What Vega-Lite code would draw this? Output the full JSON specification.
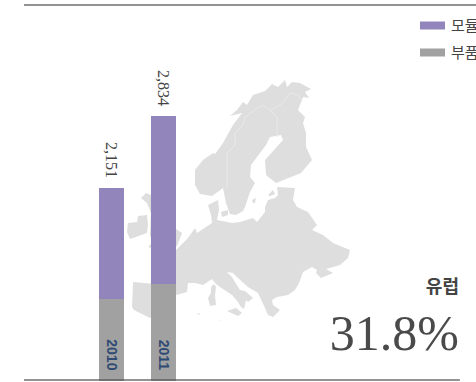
{"$schema":"https://vega.github.io/schema/vega-lite/v6.json","width":476,"height":381,"padding":0,"autosize":{"type":"none"},"background":"white","config":{"view":{"stroke":null}},
"layer":[
{"data":{"values":[
{"type":"Feature","properties":{"name":"Scandinavia"},"geometry":{"type":"Polygon","coordinates":[[[2.5,23],[3.3,24],[4.3,24.7],[4.5,24.6],[5.3,25.7],[6.3,27.5],[7.2,28.7],[6,28.4],[6.7,29],[7.3,29.8],[7.7,29.5],[8.3,30.5],[9.5,30.9],[10.2,31.6],[10.8,31.3],[11.5,32],[11.7,31.3],[12.2,31.8],[13,31.7],[14.1,31.1],[13.5,30.8],[13.9,30.2],[13.3,30.3],[12.8,29],[13.5,28.3],[13.3,27.7],[13.6,26.7],[13.6,25.3],[14.2,24],[13.1,22.7],[10.6,21.7],[9.6,22.5],[9.5,24],[11.3,26],[11.1,26.5],[10,26.3],[9.6,25.5],[8.1,23.5],[8,22.3],[8.5,21.7],[8,20.8],[7.5,19.3],[7.3,18.9],[6.6,18.5],[6,18.6],[5.6,19.7],[5.3,21.2],[4.9,20.9],[4.2,20.4],[3,20.6],[2.5,21.5],[2.5,23]]]}},
{"type":"Feature","properties":{"name":"Mainland"},"geometry":{"type":"Polygon","coordinates":[[[10.7,21.3],[12.5,21.2],[12.3,20],[12.7,19.3],[13.8,18.8],[14.7,17.5],[14.2,17],[15.3,16.5],[16.3,15.7],[18,15],[17.8,14.2],[17,13.5],[15.6,13.1],[16.3,12.7],[15.1,12.2],[14.6,12.7],[14.7,13],[14.2,13.3],[13.3,12.8],[12.9,11.7],[12.5,11],[11.8,10.5],[10.7,10.3],[10.2,10],[10.3,9.5],[11,9],[10.3,8.3],[9.8,8.5],[9.5,9.2],[8.8,10.7],[7.8,11.3],[6.8,12.2],[6.3,12.7],[5.7,12.8],[6.2,12.3],[6.5,11.8],[7,11],[7.5,10.9],[8.3,10.2],[7.8,9.8],[7.6,10],[7.4,9.1],[7.1,9.3],[6.8,9.8],[6.2,10.5],[5,11.3],[4.5,11.7],[4.2,12.1],[3.3,11.5],[2.5,11.7],[1.8,11.7],[1.7,10.8],[0.6,10.5],[-0.5,9.2],[-2,8.2],[-3.6,9],[-3.8,9.3],[-3.7,11.8],[-1.5,11.6],[-1,13],[-1.5,14],[0.6,15],[1.8,16.2],[2.5,17.2],[2.7,16.7],[4.2,17.7],[4.1,18.5],[3.8,19.5],[4.8,20],[4.9,19],[4.7,18],[6.2,17.7],[7,17.8],[8.3,18.2],[8.7,17.8],[9.5,18.8],[9.5,19.3],[9.8,20],[10.5,20.2],[10.8,20.5],[10.7,21.3]]]}},
{"type":"Feature","properties":{"name":"Islands"},"geometry":{"type":"MultiPolygon","coordinates":[
[[[-2.9,20.2],[-2.4,20.7],[-1.9,20.5],[-1,19.5],[-0.3,17.5],[0.6,17.1],[1.2,16.7],[0.7,15.4],[-1,15],[-2.2,15.3],[-1.8,15.7],[-2,16.5],[-1.9,18.7],[-2.3,19.7],[-2.9,20.2]]],
[[[-4.2,17.7],[-3.3,17.8],[-3.2,18.4],[-2.3,18.5],[-2.2,17.5],[-2.3,16.7],[-4,16.1],[-4.3,16.8],[-4.2,17.7]]],
[[[5.1,18.8],[5.8,19],[5.8,18.5],[5.2,18.3],[5.1,18.8]]],
[[[8.2,20],[8.6,20.2],[8.5,19.7],[8.3,19.7],[8.2,20]]],
[[[9.8,20.5],[10.3,21],[10.5,20.6],[10,20.4],[9.8,20.5]]],
[[[4.1,11.3],[4.4,11.6],[4.6,11.3],[4.5,10.5],[4.6,9.5],[4,9.4],[3.8,10.2],[4.1,10.7],[4.1,11.3]]],
[[[5.7,8.9],[6.6,9.2],[7.2,8.7],[6.8,8.4],[5.7,8.9]]],
[[[2.7,8.6],[3,8.7],[2.9,8.5],[2.7,8.6]]],
[[[5,8],[5.1,8],[5.1,7.9],[5,8]]]
]}}
]},"mark":{"type":"geoshape","fill":"#dedede","stroke":null},"projection":{"type":"identity","reflectY":true,"scale":10,"translate":[170,400]}},
{"data":{"values":[{"type":"Feature","properties":{"name":"Borders"},"geometry":{"type":"MultiLineString","coordinates":[[[5.7,21.3],[5.7,24.7],[6.5,25.5],[6.5,26.7],[7.3,27.5],[7.5,28.3],[9.2,29.5],[10,29],[10.5,29.2],[11.3,29.7],[12,30.7],[12.8,30.5],[13.2,29.8]],[[10,29],[10.7,28.3],[10.7,26.3]]]}}]},"mark":{"type":"geoshape","filled":false,"fill":null,"stroke":"#e9e9e9","strokeWidth":1},"projection":{"type":"identity","reflectY":true,"scale":10,"translate":[170,400]}},
{"data":{"values":[
{"year":2010,"series":"부품","value":1098,"rank":1},
{"year":2010,"series":"모듈","value":1053,"rank":2},
{"year":2011,"series":"부품","value":1241,"rank":1},
{"year":2011,"series":"모듈","value":1593,"rank":2}
]},"mark":{"type":"bar","width":25,"clip":true},"encoding":{
"x":{"field":"year","type":"quantitative","axis":null,"scale":{"domain":[2007.856,2017.01],"nice":false,"zero":false,"padding":0}},
"y":{"field":"value","type":"quantitative","stack":"zero","axis":null,"scale":{"domain":[320,3934.4],"nice":false,"zero":false}},
"order":{"field":"rank","type":"quantitative"},
"color":{"field":"series","type":"nominal","scale":{"domain":["모듈","부품"],"range":["#9185bc","#a1a1a1"]},"legend":{"orient":"none","legendX":420,"legendY":13,"title":null,"symbolType":"M-1,-0.32H1V0.32H-1Z","symbolSize":625,"symbolStrokeWidth":0,"labelFont":"Noto Sans CJK KR","labelFontSize":15,"labelColor":"#444444","labelOffset":6,"rowPadding":6,"padding":0}}
}},
{"data":{"values":[{"year":2010,"total":2151},{"year":2011,"total":2834}]},"mark":{"type":"text","angle":90,"align":"right","baseline":"middle","dx":-10,"font":"Liberation Serif","fontSize":16,"color":"#444444"},"encoding":{
"x":{"field":"year","type":"quantitative"},
"y":{"field":"total","type":"quantitative"},
"text":{"field":"total","type":"quantitative","format":",d"}
}},
{"data":{"values":[{"year":2010,"label":"2010"},{"year":2011,"label":"2011"}]},"mark":{"type":"text","angle":90,"align":"center","baseline":"middle","font":"Liberation Sans","fontWeight":"bold","fontSize":14,"color":"#2f4a73"},"encoding":{
"x":{"field":"year","type":"quantitative"},
"y":{"datum":568},
"text":{"field":"label"}
}},
{"data":{"values":[{"from":2008.317,"to":2017.01,"level":3887},{"from":2008.317,"to":2016.7,"level":329.5}]},"mark":{"type":"rule","color":"#555555","strokeWidth":1.5,"opacity":0.85},"encoding":{
"x":{"field":"from","type":"quantitative"},"x2":{"field":"to"},
"y":{"field":"level","type":"quantitative"}
}},
{"data":{"values":[{"at":2016.683,"level":1203,"label":"유럽"}]},"mark":{"type":"text","align":"right","baseline":"middle","font":"Noto Sans CJK KR","fontWeight":"bold","fontSize":18,"color":"#444444"},"encoding":{
"x":{"field":"at","type":"quantitative"},"y":{"field":"level","type":"quantitative"},"text":{"field":"label"}
}},
{"data":{"values":[{"at":2016.683,"level":615,"label":"31.8%"}]},"mark":{"type":"text","align":"right","baseline":"alphabetic","font":"Liberation Serif","fontSize":50,"color":"#4a4a4a"},"encoding":{
"x":{"field":"at","type":"quantitative"},"y":{"field":"level","type":"quantitative"},"text":{"field":"label"}
}}
]}
